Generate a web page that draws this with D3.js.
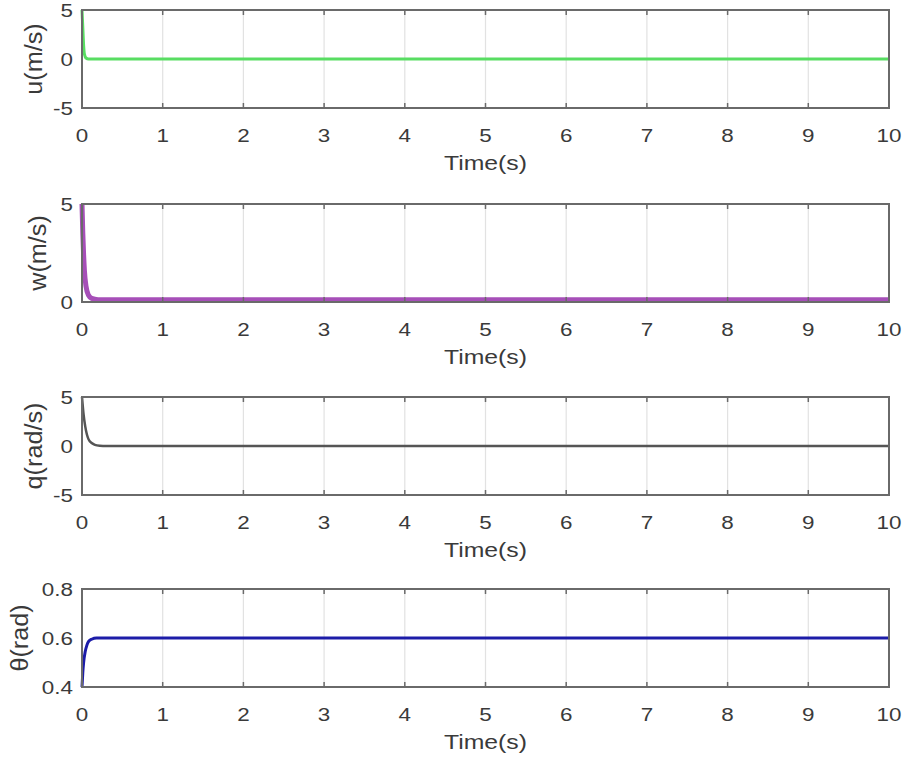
<!DOCTYPE html>
<html>
<head>
<meta charset="utf-8">
<script src="https://cdn.jsdelivr.net/npm/d3@7"></script>
<style>
  body { margin: 0; background: #fff; }
  svg { font-family: "Liberation Sans", Arial, sans-serif; }
</style>
</head>
<body>
<svg></svg>
<script>
var width = 910;
var height = 764;

// time axis ticks
var timeTicks = [0, 1, 2, 3, 4, 5, 6, 7, 8, 9, 10];

// u(m/s)
var uTime = [0, 0.01, 0.02, 0.03, 0.05, 0.08, 10];
var uVals = [5, 3.2, 1.4, 0.5, 0.1, 0, 0];

// w(m/s)
var wTime = [0, 0.01, 0.02, 0.03, 0.05, 0.08, 0.12, 0.2, 10];
var wVals = [5, 3.5, 2.4, 1.6, 0.8, 0.35, 0.18, 0.12, 0.12];

// q(rad/s)
var qTime = [0, 0.02, 0.04, 0.06, 0.08, 0.12, 0.16, 0.22, 0.3, 10];
var qVals = [5, 3.2, 2.0, 1.2, 0.7, 0.3, 0.12, 0.03, 0, 0];

// theta(rad)
var thTime = [0, 0.01, 0.02, 0.04, 0.06, 0.08, 0.12, 0.18, 10];
var thVals = [0.4, 0.46, 0.5, 0.545, 0.57, 0.585, 0.595, 0.6, 0.6];

var panels = [
  {label: "u(m/s)", t: uTime, v: uVals, domain: [-5, 5], ticks: [-5, 0, 5], color: "#58dd62", lw: 3, top: 10, labelX: 42},
  {label: "w(m/s)", t: wTime, v: wVals, domain: [0, 5], ticks: [0, 5], color: "#a64fb8", lw: 5, top: 204, labelX: 46},
  {label: "q(rad/s)", t: qTime, v: qVals, domain: [-5, 5], ticks: [-5, 0, 5], color: "#555555", lw: 2.5, top: 397, labelX: 42},
  {label: "θ(rad)", t: thTime, v: thVals, domain: [0.4, 0.8], ticks: [0.4, 0.6, 0.8], color: "#1c1ca8", lw: 3, top: 589, labelX: 28}
];

var plotLeft = 82;
var plotRight = 889;
var plotH = 98;
var textColor = "#3a3a3a";

var svg = d3.select("svg")
            .attr("width", width)
            .attr("height", height);

var x = d3.scaleLinear()
          .domain([0, 10])
          .range([plotLeft, plotRight]);

panels.forEach(function(p) {
    var y = d3.scaleLinear()
              .domain(p.domain)
              .range([p.top + plotH, p.top]);

    var g = svg.append("g");

    // vertical grid
    g.selectAll(".grid")
        .data(timeTicks)
        .enter()
        .append("line")
            .attr("x1", d => x(d))
            .attr("x2", d => x(d))
            .attr("y1", p.top)
            .attr("y2", p.top + plotH)
            .attr("stroke", "#e2e2e2")
            .attr("stroke-width", 1.2);

    // data line
    var line = d3.line()
                 .x(d => x(d[0]))
                 .y(d => y(d[1]))
                 .curve(d3.curveMonotoneX);
    g.append("path")
        .datum(p.t.map((t, i) => [t, p.v[i]]))
        .attr("d", line)
        .attr("fill", "none")
        .attr("stroke", p.color)
        .attr("stroke-width", p.lw)
        .attr("stroke-linejoin", "round");

    // box
    g.append("rect")
        .attr("x", plotLeft)
        .attr("y", p.top)
        .attr("width", plotRight - plotLeft)
        .attr("height", plotH)
        .attr("fill", "none")
        .attr("stroke", "#6a6a6a")
        .attr("stroke-width", 2);

    // ticks inside, top and bottom
    g.selectAll(".tb")
        .data(timeTicks.slice(1, -1))
        .enter()
        .append("line")
            .attr("x1", d => x(d))
            .attr("x2", d => x(d))
            .attr("y1", p.top + plotH)
            .attr("y2", p.top + plotH - 5)
            .attr("stroke", "#6a6a6a")
            .attr("stroke-width", 1.5);
    g.selectAll(".tt")
        .data(timeTicks.slice(1, -1))
        .enter()
        .append("line")
            .attr("x1", d => x(d))
            .attr("x2", d => x(d))
            .attr("y1", p.top)
            .attr("y2", p.top + 5)
            .attr("stroke", "#6a6a6a")
            .attr("stroke-width", 1.5);

    // x tick labels
    g.selectAll(".xl")
        .data(timeTicks)
        .enter()
        .append("text")
            .attr("transform", d => "translate(" + x(d) + "," + (p.top + plotH + 34) + ") scale(1.18,1)")
            .attr("text-anchor", "middle")
            .attr("font-size", 19)
            .attr("fill", textColor)
            .text(d => d);

    // y tick labels
    g.selectAll(".yl")
        .data(p.ticks)
        .enter()
        .append("text")
            .attr("transform", d => "translate(" + (plotLeft - 9) + "," + (y(d) + 7) + ") scale(1.18,1)")
            .attr("text-anchor", "end")
            .attr("font-size", 19)
            .attr("fill", textColor)
            .text(d => d);

    // x label
    g.append("text")
        .attr("transform", "translate(" + ((plotLeft + plotRight) / 2) + "," + (p.top + plotH + 62) + ") scale(1.18,1)")
        .attr("text-anchor", "middle")
        .attr("font-size", 21)
        .attr("fill", textColor)
        .text("Time(s)");

    // y label
    g.append("text")
        .attr("transform", "translate(" + p.labelX + "," + (p.top + plotH / 2) + ") rotate(-90) scale(1.2,1.15)")
        .attr("text-anchor", "middle")
        .attr("font-size", 21)
        .attr("fill", textColor)
        .text(p.label);
});
</script>
</body>
</html>
